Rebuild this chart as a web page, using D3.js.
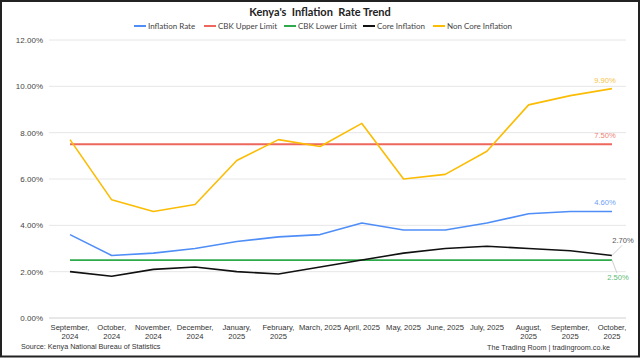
<!DOCTYPE html>
<html><head><meta charset="utf-8">
<script src="https://cdn.jsdelivr.net/npm/d3@7"></script>
<style>body{margin:0;background:#fff}svg{display:block}</style>
</head><body>
<script>
const categories = ["September, 2024","October, 2024","November, 2024","December, 2024","January, 2025","February, 2025","March, 2025","April, 2025","May, 2025","June, 2025","July, 2025","August, 2025","September, 2025","October, 2025"];
const tickLines = [["September,","2024"],["October,","2024"],["November,","2024"],["December,","2024"],["January,","2025"],["February,","2025"],["March, 2025"],["April, 2025"],["May, 2025"],["June, 2025"],["July, 2025"],["August,","2025"],["September,","2025"],["October,","2025"]];
const inflationRate = [3.6,2.7,2.8,3.0,3.3,3.5,3.6,4.1,3.8,3.8,4.1,4.5,4.6,4.6];
const cbkUpper = [7.5,7.5,7.5,7.5,7.5,7.5,7.5,7.5,7.5,7.5,7.5,7.5,7.5,7.5];
const cbkLower = [2.5,2.5,2.5,2.5,2.5,2.5,2.5,2.5,2.5,2.5,2.5,2.5,2.5,2.5];
const coreInflation = [2.0,1.8,2.1,2.2,2.0,1.9,2.2,2.5,2.8,3.0,3.1,3.0,2.9,2.7];
const nonCoreInflation = [7.7,5.1,4.6,4.9,6.8,7.7,7.4,8.4,6.0,6.2,7.2,9.2,9.6,9.9];
const yTicks = [0,2,4,6,8,10,12];
const seriesNames = ["Inflation Rate","CBK Upper Limit","CBK Lower Limit","Core Inflation","Non Core Inflation"];
const seriesColors = ["#4F8EF7","#EE675C","#2EAA4A","#111111","#FBBC04"];
const labelColors = ["#6E9FF5","#EF7F74","#5DBB74","#555555","#F6C443"];
const title = "Kenya's  Inflation  Rate Trend";
const source = "Source: Kenya National Bureau of Statistics";
const credit = "The Trading Room | tradingroom.co.ke";

const W = 640, H = 358;
const svg = d3.select("body").append("svg").attr("width", W).attr("height", H);
svg.append("rect").attr("x",1).attr("y",1).attr("width",W-2).attr("height",H-2.5).attr("fill","#fff").attr("stroke","#222").attr("stroke-width",2);

const x = d3.scalePoint().domain(categories).range([70, 612]);
const y = d3.scaleLinear().domain([0, 12]).range([318, 40]);

const fontMain = "'Liberation Sans', Arial, sans-serif";
const fontTitle = "Lato, 'Open Sans', sans-serif";

svg.append("text").attr("x", 320).attr("y", 16).attr("text-anchor","middle").style("white-space","pre")
  .attr("font-family", fontTitle).attr("font-weight","bold").attr("font-size", 11).attr("fill","#222").text(title);

// legend
const legendX = [134, 204, 284, 363, 433];
seriesNames.forEach((n,i)=>{
  const g = svg.append("g").attr("transform", `translate(${legendX[i]},26)`);
  g.append("line").attr("x1",0).attr("x2",12).attr("stroke",seriesColors[i]).attr("stroke-width",2);
  g.append("text").attr("x",14).attr("y",3).attr("font-family",fontTitle).attr("font-size",8).attr("fill","#444").text(n);
});

// grid + y axis
const yAxis = d3.axisLeft(y).tickValues(yTicks).tickSize(0).tickPadding(0).tickFormat(d=>d.toFixed(2)+"%");
const ya = svg.append("g").attr("transform","translate(43,0)").call(yAxis);
ya.select(".domain").remove();
ya.selectAll("text").attr("font-family",fontMain).attr("font-size",8).attr("fill","#444");
svg.append("g").selectAll("line").data(yTicks).join("line")
  .attr("x1",49).attr("x2",626).attr("y1",d=>y(d)).attr("y2",d=>y(d))
  .attr("stroke",d=>d===0?"#d0d0d0":"#e6e6e6").attr("stroke-width",1);

// x axis labels
const xa = svg.append("g").attr("transform","translate(0,318)").call(d3.axisBottom(x).tickSize(0).tickFormat(""));
xa.select(".domain").remove();
categories.forEach((c,i)=>{
  const t = svg.append("text").attr("x", x(c)).attr("y", 330).attr("text-anchor","middle")
    .attr("font-family",fontMain).attr("font-size",7.6).attr("fill","#333");
  tickLines[i].forEach((l,j)=>t.append("tspan").attr("x",x(c)).attr("dy",j?9:0).text(l));
});

// lines
const allSeries = [inflationRate, cbkUpper, cbkLower, coreInflation, nonCoreInflation];
const line = d3.line().x((d,i)=>x(categories[i])).y(d=>y(d));
const order = [1,2,0,3,4];
order.forEach(i=>{
  svg.append("path").datum(allSeries[i]).attr("d",line).attr("fill","none")
    .attr("stroke",seriesColors[i]).attr("stroke-width", i===1?2:1.6).attr("stroke-linejoin","round");
});

// end labels
const last = categories.length-1;
const lx = x(categories[last]);
function endLabel(i, dx, dy, leader){
  const v = allSeries[i][last];
  const py = y(v);
  if (leader) {
    svg.append("line").attr("x1",lx).attr("y1",py).attr("x2",lx+leader[0]).attr("y2",py+leader[1])
      .attr("stroke","#cfcfcf").attr("stroke-width",1);
  }
  svg.append("text").attr("x", lx+dx).attr("y", py+dy).attr("text-anchor","middle")
    .attr("font-family",fontMain).attr("font-size",7.6).attr("fill",labelColors[i]).text(v.toFixed(2)+"%");
}
endLabel(4, -7, -6, null);
endLabel(1, -7, -6, null);
endLabel(0, -7, -6, null);
endLabel(3, 11, -12, [10,-10]);
endLabel(2, 6, 20, [5,13]);

// footer
svg.append("text").attr("x",21).attr("y",349).attr("font-family",fontMain).attr("font-size",7.2).attr("fill","#333").text(source);
svg.append("text").attr("x",610).attr("y",350).attr("text-anchor","end").attr("font-family",fontMain).attr("font-size",7.2).attr("fill","#333").text(credit);
</script>
</body></html>
